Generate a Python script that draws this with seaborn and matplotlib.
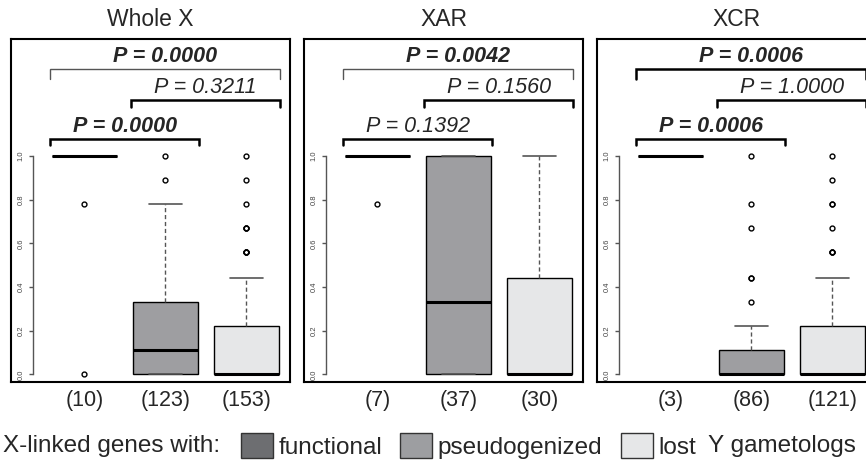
import numpy as np
import pandas as pd
import seaborn as sns
import matplotlib.pyplot as plt
from matplotlib.patches import Patch

regions = ['Whole X', 'XAR', 'XCR']
groups = ['functional', 'pseudogenized', 'lost']
colors = ['#6d6e71', '#9d9ea1', '#e6e7e8']

# fraction values seen in the plots and how many genes sit at each one
levels = [0.0, 0.11, 0.22, 0.33, 0.44, 0.56, 0.67, 0.78, 0.89, 1.0]

whole_functional = [1, 0, 0, 0, 0, 0, 0, 1, 0, 8]
whole_pseudo = [40, 25, 20, 15, 8, 6, 4, 3, 1, 1]
whole_lost = [80, 20, 25, 12, 6, 4, 3, 1, 1, 1]

xar_functional = [0, 0, 0, 0, 0, 0, 0, 1, 0, 6]
xar_pseudo = [12, 3, 3, 3, 0, 2, 0, 2, 1, 11]
xar_lost = [16, 2, 2, 1, 3, 2, 1, 1, 1, 1]

xcr_functional = [0, 0, 0, 0, 0, 0, 0, 0, 0, 3]
xcr_pseudo = [60, 15, 5, 1, 2, 0, 1, 1, 0, 1]
xcr_lost = [70, 15, 15, 8, 5, 3, 1, 2, 1, 1]

# pairwise tests: (first group, second group)
p_pairs = [(0, 2), (1, 2), (0, 1)]
whole_p = [0.0000, 0.3211, 0.0000]
xar_p = [0.0042, 0.1560, 0.1392]
xcr_p = [0.0006, 1.0000, 0.0006]

counts = {
    'Whole X': [whole_functional, whole_pseudo, whole_lost],
    'XAR': [xar_functional, xar_pseudo, xar_lost],
    'XCR': [xcr_functional, xcr_pseudo, xcr_lost],
}
pvals = {'Whole X': whole_p, 'XAR': xar_p, 'XCR': xcr_p}
# top bracket is drawn thin and grey in the first two panels
thin_top = {'Whole X': True, 'XAR': True, 'XCR': False}

sns.set_style('white')
plt.rcParams['font.family'] = ['Liberation Sans', 'DejaVu Sans']

W, H = 866, 462
fig = plt.figure(figsize=(W / 100, H / 100), dpi=100)

ax_w = 279
lefts = [11, 304, 597]
top_px, bot_px = 39, 382

for k, reg in enumerate(regions):
    ax = fig.add_axes([lefts[k] / W, (H - bot_px) / H, ax_w / W, (bot_px - top_px) / H])

    rows = []
    for g, c in zip(groups, counts[reg]):
        for v in np.repeat(levels, c):
            rows.append((g, v))
    df = pd.DataFrame(rows, columns=['group', 'value'])

    sns.boxplot(
        data=df, x='group', y='value', hue='group', order=groups,
        hue_order=groups, palette=colors, width=0.8, whis=1.5,
        legend=False, ax=ax,
        boxprops={'edgecolor': 'black', 'linewidth': 1.0},
        medianprops={'color': 'black', 'linewidth': 2.2},
        whiskerprops={'color': '#555555', 'linestyle': (0, (3, 2)), 'linewidth': 1.0},
        capprops={'color': '#555555', 'linewidth': 1.2},
        flierprops={'marker': 'o', 'markersize': 3.5, 'markerfacecolor': 'none',
                    'markeredgecolor': 'black', 'markeredgewidth': 1.0},
    )

    ax.set_xlim(-0.907, 2.537)
    ax.set_ylim(-0.035, 1.535)
    ax.set_xlabel('')
    ax.set_ylabel('')
    ax.set_yticks([])
    n_labels = ['(%d)' % sum(c) for c in counts[reg]]
    ax.set_xticks(range(3))
    ax.set_xticklabels(n_labels, fontsize=15.5)
    ax.tick_params(axis='x', length=0, pad=6)
    for s in ax.spines.values():
        s.set_visible(True)
        s.set_color('black')
        s.set_linewidth(1.5)

    sec = ax.secondary_yaxis(22 / ax_w)
    sec.set_yticks([0, 0.2, 0.4, 0.6, 0.8, 1.0])
    sec.set_yticklabels(['0.0', '0.2', '0.4', '0.6', '0.8', '1.0'],
                        rotation=90, va='center', fontsize=5.5, color='#444444')
    sec.tick_params(axis='y', length=3, width=1, color='#555555', pad=3)
    sec.spines['left'].set_bounds(0, 1)
    sec.spines['left'].set_color('#555555')
    sec.spines['left'].set_linewidth(1)

    ax.set_title(reg, fontsize=16.5, pad=9)

    # significance brackets
    bracket_y = [1.398, 1.255, 1.079]
    drop = [0.045, 0.03, 0.03]
    for j, ((a, b), p) in enumerate(zip(p_pairs, pvals[reg])):
        x0, x1 = a - 0.42, b + 0.41
        y = bracket_y[j]
        if j == 0 and thin_top[reg]:
            lc, lw = '#555555', 1.0
        else:
            lc, lw = 'black', 1.8
        ax.plot([x0, x0, x1, x1], [y - drop[j], y, y, y - drop[j]],
                color=lc, lw=lw, solid_joinstyle='miter', clip_on=False)
        weight = 'bold' if p < 0.05 else 'normal'
        ax.text((x0 + x1) / 2, y + 0.032, 'P = %.4f' % p, ha='center',
                va='baseline', fontsize=15.5, style='italic', weight=weight)

# legend row at the bottom
ly = 1 - 446 / H
fig.text(3 / W, ly, 'X-linked genes with:', fontsize=17.5, va='center', ha='left')
handles = [Patch(facecolor=c, edgecolor='#333333', linewidth=1) for c in colors]
fig.legend(handles, groups, loc='center left', bbox_to_anchor=(241 / W, ly),
           ncol=3, frameon=False, fontsize=17.5, handlelength=1.32,
           handleheight=1.23, handletextpad=0.22, columnspacing=0.75,
           borderpad=0, borderaxespad=0)
fig.text(708 / W, ly, 'Y gametologs', fontsize=17.5, va='center', ha='left')

plt.savefig('out.png', dpi=100)
